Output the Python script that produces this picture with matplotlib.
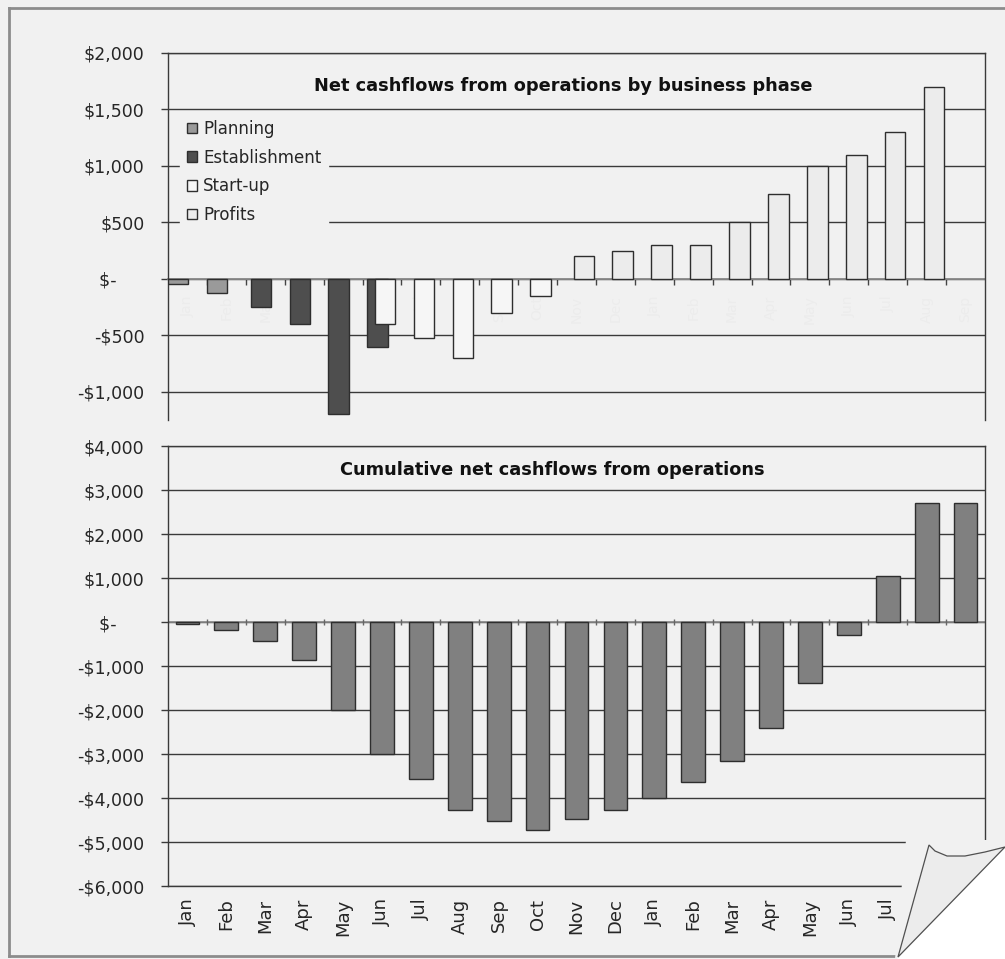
import matplotlib.pyplot as plt  # graficos
import numpy as np
from matplotlib.patches import Polygon
from matplotlib.lines import Line2D
from matplotlib.ticker import FuncFormatter

plt.rcParams['font.family'] = ['DejaVu Sans']

# meses del periodo (21 meses)
meses = ['Jan', 'Feb', 'Mar', 'Apr', 'May', 'Jun', 'Jul', 'Aug', 'Sep', 'Oct', 'Nov', 'Dec',
         'Jan', 'Feb', 'Mar', 'Apr', 'May', 'Jun', 'Jul', 'Aug', 'Sep']

# flujo neto por fase (indice del mes -> valor)
planning_mes = [0, 1]
planning = [-50, -125]
establishment_mes = [2, 3, 4, 5]
establishment = [-250, -400, -1200, -600]
startup_mes = [5, 6, 7, 8, 9]
startup = [-400, -525, -700, -300, -150]
profits_mes = [10, 11, 12, 13, 14, 15, 16, 17, 18, 19]
profits = [200, 250, 300, 300, 500, 750, 1000, 1100, 1300, 1700]

# flujo neto acumulado
acumulado = [-55, -180, -435, -855, -1990, -3010, -3570, -4270, -4525, -4720, -4480,
             -4265, -4000, -3630, -3150, -2410, -1390, -305, 1050, 2700, 2700]

fondo = '#f1f1f1'
linea = '#3a3a3a'
W, H = 1005, 959


def fx(px):
    return px / W


def fy(py):
    return 1 - py / H


def pts(lista):
    return [(fx(x), fy(y)) for x, y in lista]


def dinero(v, pos):
    if v == 0:
        return '$-     '
    s = '${:,.0f}'.format(abs(v))
    return '-' + s if v < 0 else s


fig = plt.figure(figsize=(W / 100, H / 100), dpi=100, facecolor=fondo)
ax1 = fig.add_axes([fx(168), fy(420), fx(985) - fx(168), fy(53) - fy(420)])
ax2 = fig.add_axes([fx(168), fy(886), fx(985) - fx(168), fy(446) - fy(886)])

x = np.arange(len(meses))
bordes = x[:-1] + 0.5

for ax in (ax1, ax2):
    ax.set_facecolor(fondo)
    ax.set_xlim(-0.5, len(meses) - 0.5)
    ax.yaxis.set_major_formatter(FuncFormatter(dinero))
    ax.grid(axis='y', color=linea, lw=1.0)
    ax.set_axisbelow(True)
    ax.tick_params(axis='y', length=5, width=1.0, color=linea, pad=12,
                   labelsize=12.5, labelcolor='#262626')
    for s in ax.spines.values():
        s.set_color(linea)
        s.set_linewidth(1.0)

# --- grafico de arriba: flujo por fase ---
ax1.set_ylim(-1250, 2000)
ax1.set_yticks(np.arange(-1000, 2001, 500))
ancho = 0.53
ax1.bar(np.array(planning_mes) - 0.24, planning, ancho, color='#9a9a9a',
        edgecolor='#2e2e2e', lw=1.0, label='Planning', zorder=3)
ax1.bar(np.array(establishment_mes) - 0.11, establishment, ancho, color='#4e4e4e',
        edgecolor='#2e2e2e', lw=1.0, label='Establishment', zorder=3)
ax1.bar(np.array(startup_mes) + 0.08, startup, ancho, color='#f6f6f6',
        edgecolor='#2e2e2e', lw=1.0, label='Start-up', zorder=3)
ax1.bar(np.array(profits_mes) + 0.19, profits, ancho, color='#ececec',
        edgecolor='#2e2e2e', lw=1.0, label='Profits', zorder=3)

# eje de categorias en cero, con etiquetas casi invisibles
ax1.spines['bottom'].set_position(('data', 0))
ax1.spines['bottom'].set_color('#8a8a8a')
ax1.spines['bottom'].set_linewidth(1.3)
ax1.spines['bottom'].set_zorder(2)
ax1.set_xticks(x, meses, rotation=90)
ax1.set_xticks(bordes, minor=True)
ax1.tick_params(axis='x', which='major', length=0, pad=12, labelsize=10,
                labelcolor='#ececec')
ax1.tick_params(axis='x', which='minor', length=4, width=1.0, color='#444444')

ax1.text(0.4835, 0.91, 'Net cashflows from operations by business phase',
         transform=ax1.transAxes, ha='center', va='center', fontsize=12.8,
         fontweight='bold', color='#111111')

ley = ax1.legend(loc='upper left', bbox_to_anchor=(0.0147, 0.836), borderaxespad=0,
                 frameon=True, facecolor=fondo, edgecolor=fondo, framealpha=1,
                 fancybox=False, fontsize=12, handlelength=0.6, handleheight=0.6,
                 handletextpad=0.4, labelspacing=0.64, borderpad=0.4)
for t in ley.get_texts():
    t.set_color('#262626')

# --- grafico de abajo: acumulado ---
ax2.set_ylim(-6000, 4000)
ax2.set_yticks(np.arange(-6000, 4001, 1000))
ax2.bar(x, acumulado, 0.61, color='#808080', edgecolor='#2e2e2e', lw=1.0, zorder=3)
ax2.axhline(0, color='#8a8a8a', lw=1.2, zorder=2)
ax2.plot(bordes, np.zeros(len(bordes)), ls='none', marker='|', ms=5,
         color='#666666', zorder=2)
ax2.set_xticks(x, meses, rotation=90)
ax2.tick_params(axis='x', length=0, pad=9, labelsize=13, labelcolor='#262626')

ax2.text(0.47, 0.945, 'Cumulative net cashflows from operations',
         transform=ax2.transAxes, ha='center', va='center', fontsize=12.8,
         fontweight='bold', color='#111111')

# marco exterior
for xs, ys in [([9, 1005], [8, 8]), ([9, 9], [8, 956]), ([9, 898], [956, 956])]:
    fig.add_artist(Line2D([fx(v) for v in xs], [fy(v) for v in ys],
                          color='#8c8c8c', lw=2, zorder=5))

# esquina doblada
fig.add_artist(Polygon(pts([(906, 840), (1005, 840), (1005, 959), (895, 959)]),
                       closed=True, transform=fig.transFigure, facecolor=fondo,
                       edgecolor='none', zorder=20))
fig.add_artist(Polygon(pts([(1005, 847), (1005, 959), (897, 959)]), closed=True,
                       transform=fig.transFigure, facecolor='white',
                       edgecolor='none', zorder=21))
fig.add_artist(Polygon(pts([(929, 845), (935, 851), (947, 856), (965, 856),
                            (985, 852), (1005, 847), (898, 957)]), closed=True,
                       transform=fig.transFigure, facecolor='#ececec',
                       edgecolor='#505050', lw=0.9, zorder=22))

fig.savefig('out.png', dpi=100, facecolor=fondo)
